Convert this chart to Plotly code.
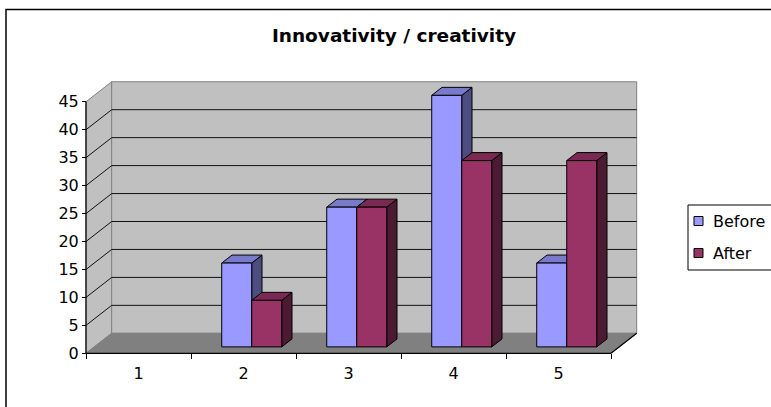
import plotly.graph_objects as go

# ---- data -------------------------------------------------------------
categories = ["1", "2", "3", "4", "5"]
series_names = ["Before", "After"]
before = [0, 15, 25, 45, 15]
after = [0, 8.33, 25, 33.33, 33.33]
y_ticks = [0, 5, 10, 15, 20, 25, 30, 35, 40, 45]

# ---- styling ----------------------------------------------------------
FONT = "DejaVu Sans"
FACE = {"Before": ("#9999FF", "#7A7ACC", "#4D4D80"),   # front, top, side
        "After": ("#993366", "#7A2952", "#4D1A33")}
WALL = "#C0C0C0"
FLOOR = "#808080"
EDGE = "#808080"

W, H = 771, 407
# pixel anchors of the chart frame
X0_PX, PX_PER_CAT = 86.0, 105.0          # data x = 0.5 sits at X0_PX
Y0_PX, PX_PER_UNIT = 353.3, 5.59         # data y = 0 sits at Y0_PX
L, R_EDGE, T, B_EDGE = 80, 645, 75, 358  # plot area in pixels

# oblique depth of the 3-D box in data units
DX = 25.7 / PX_PER_CAT
DY = 20.0 / PX_PER_UNIT
BAR_W = 1 / 3.5                           # gap width 150%
BAR_FRONT, BAR_BACK = 0.32, 0.72          # bar depth as fraction of box
Y_TOP = y_ticks[-1]

n = len(categories)
x_lo = 0.5 - (X0_PX - L) / PX_PER_CAT
x_hi = 0.5 + (R_EDGE - X0_PX) / PX_PER_CAT
y_lo = -(B_EDGE - Y0_PX) / PX_PER_UNIT
y_hi = (Y0_PX - T) / PX_PER_UNIT
pw, ph = R_EDGE - L, B_EDGE - T


def px_x(px):
    return (px - L) / pw


def px_y(py):
    return (B_EDGE - py) / ph


fig = go.Figure()


def poly(pts, fill, line_color, width=1.0):
    xs = [p[0] for p in pts] + [pts[0][0]]
    ys = [p[1] for p in pts] + [pts[0][1]]
    fig.add_trace(go.Scatter(x=xs, y=ys, mode="lines", fill="toself",
                             fillcolor=fill,
                             line=dict(color=line_color, width=width),
                             showlegend=False, hoverinfo="skip"))


def lines(segs, color, width=1.0):
    xs, ys = [], []
    for (a, b) in segs:
        xs += [a[0], b[0], None]
        ys += [a[1], b[1], None]
    fig.add_trace(go.Scatter(x=xs, y=ys, mode="lines",
                             line=dict(color=color, width=width),
                             showlegend=False, hoverinfo="skip"))


left, right = 0.5, n + 0.5
# walls and floor
poly([(left, 0), (left, Y_TOP), (left + DX, Y_TOP + DY), (left + DX, DY)], WALL, EDGE)
poly([(left + DX, DY), (left + DX, Y_TOP + DY), (right + DX, Y_TOP + DY),
      (right + DX, DY)], WALL, EDGE)
poly([(left, 0), (right, 0), (right + DX, DY), (left + DX, DY)], FLOOR, FLOOR)

# gridlines on the side and back walls
grid = []
for v in y_ticks[1:-1]:
    grid.append(((left, v), (left + DX, v + DY)))
    grid.append(((left + DX, v + DY), (right + DX, v + DY)))
lines(grid, "#111111", 1)

# axis lines
lines([((left, 0), (left, Y_TOP)),
       ((left, 0), (right, 0)),
       ((right, 0), (right + DX, DY))], "#000000", 1.2)

# 3-D columns
fx, fy = BAR_FRONT * DX, BAR_FRONT * DY
sx, sy = (BAR_BACK - BAR_FRONT) * DX, (BAR_BACK - BAR_FRONT) * DY
for i in range(n):
    c = i + 1
    for s, (name, vals) in enumerate(zip(series_names, [before, after])):
        h = vals[i]
        if h <= 0:
            continue
        front, top, side = FACE[name]
        x0 = c - BAR_W + s * BAR_W + fx
        x1 = x0 + BAR_W
        poly([(x1, fy), (x1 + sx, fy + sy), (x1 + sx, h + fy + sy), (x1, h + fy)],
             side, "#000000")
        poly([(x0, h + fy), (x1, h + fy), (x1 + sx, h + fy + sy), (x0 + sx, h + fy + sy)],
             top, "#000000")
        poly([(x0, fy), (x1, fy), (x1, h + fy), (x0, h + fy)], front, "#000000")

# legend and chart border
shapes = [
    dict(type="rect", xref="paper", yref="paper",
         x0=px_x(6), x1=px_x(W + 20), y0=px_y(H + 20), y1=px_y(9.5),
         line=dict(color="#000000", width=1.5), fillcolor="rgba(0,0,0,0)"),
    dict(type="rect", xref="paper", yref="paper",
         x0=px_x(688), x1=px_x(W + 20), y0=px_y(270), y1=px_y(205),
         line=dict(color="#000000", width=1), fillcolor="#FFFFFF"),
]
annotations = []
for k, name in enumerate(series_names):
    cy = 221 + 32 * k
    shapes.append(dict(type="rect", xref="paper", yref="paper",
                       x0=px_x(694), x1=px_x(703), y0=px_y(cy + 4.5), y1=px_y(cy - 4.5),
                       line=dict(color="#000000", width=1), fillcolor=FACE[name][0]))
    annotations.append(dict(text=name, xref="paper", yref="paper",
                            x=px_x(711), y=px_y(cy), xanchor="left", yanchor="middle",
                            showarrow=False, font=dict(family=FONT, size=16, color="#000000")))

fig.update_layout(
    width=W, height=H,
    margin=dict(l=L, r=W - R_EDGE, t=T, b=H - B_EDGE, pad=0),
    paper_bgcolor="#FFFFFF", plot_bgcolor="rgba(0,0,0,0)",
    showlegend=False,
    title=dict(text="<b>Innovativity / creativity</b>", xref="container", yref="container",
               x=394 / W, y=1 - 36 / H, xanchor="center", yanchor="middle",
               font=dict(family=FONT, size=18.5, color="#000000")),
    xaxis=dict(range=[x_lo, x_hi], tickvals=list(range(1, n + 1)), ticktext=categories,
               ticks="", showgrid=False, zeroline=False, showline=False,
               anchor="free", position=(B_EDGE - Y0_PX) / ph,
               ticklabelstandoff=9,
               tickfont=dict(family=FONT, size=16, color="#000000"),
               minor=dict(ticks="outside", tickmode="array",
                          tickvals=[k + 0.5 for k in range(n + 1)],
                          ticklen=5, tickcolor="#000000", tickwidth=1, showgrid=False)),
    yaxis=dict(range=[y_lo, y_hi], tickvals=y_ticks, ticks="outside", ticklen=4,
               tickcolor="#000000", tickwidth=1,
               showgrid=False, zeroline=False, showline=False,
               anchor="free", position=(X0_PX - L) / pw,
               tickfont=dict(family=FONT, size=16, color="#000000")),
    shapes=shapes, annotations=annotations,
)

fig.write_html("out.html")
